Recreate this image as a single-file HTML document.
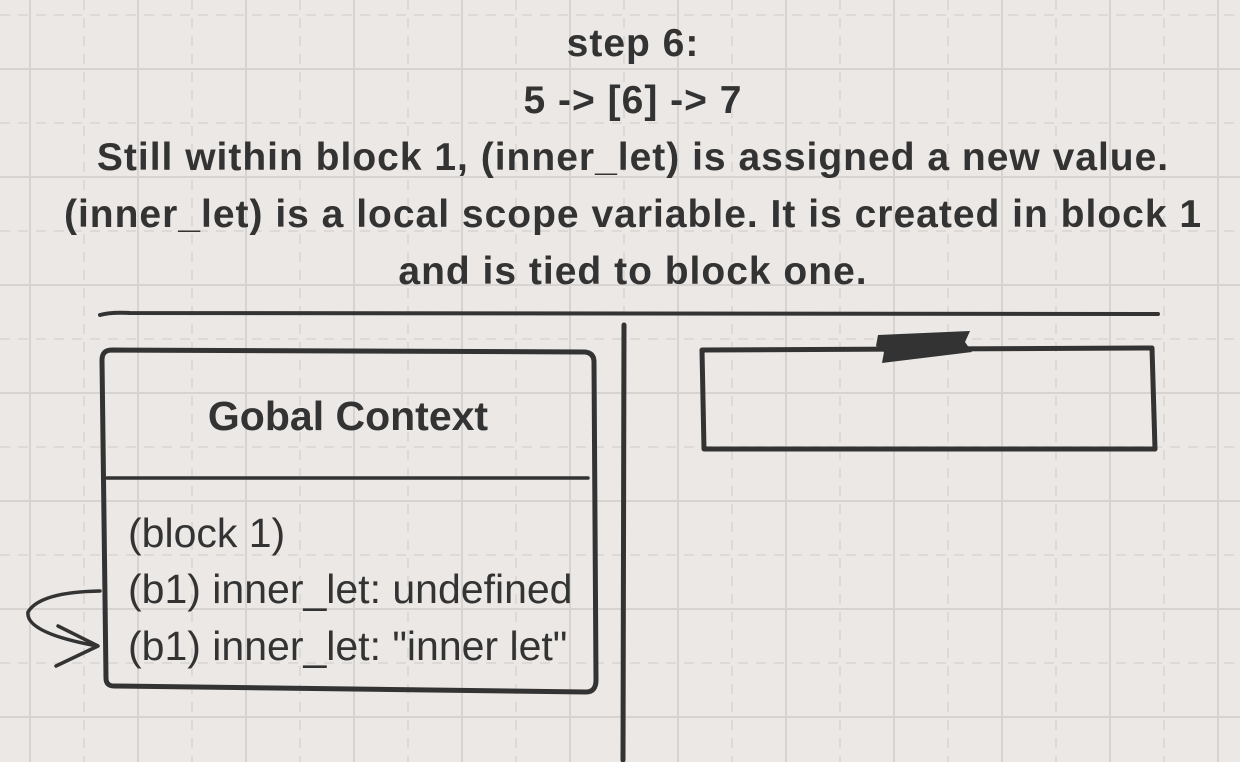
<!DOCTYPE html>
<html><head><style>
html,body{margin:0;padding:0;}
body{width:1240px;height:762px;overflow:hidden;position:relative;background:#ebe8e5;
background-image:
linear-gradient(to right,#d6d3d0 2px,transparent 2px),
linear-gradient(to bottom,#d6d3d0 2px,transparent 2px);
background-size:108px 108px;background-position:29px 68px;
font-family:"Liberation Sans",Arial,sans-serif;color:#333;}
.t{position:absolute;left:0;width:1266px;text-align:center;font-weight:bold;font-size:39px;line-height:57px;top:15px;letter-spacing:1px;}
.b{position:absolute;font-size:41px;left:128px;}
</style></head><body>
<svg width="1240" height="762" style="position:absolute;left:0;top:0">
<g stroke="#dcd9d6" stroke-width="2" stroke-dasharray="10,8">
<line x1="84" y1="0" x2="84" y2="762"/><line x1="192" y1="0" x2="192" y2="762"/><line x1="300" y1="0" x2="300" y2="762"/><line x1="408" y1="0" x2="408" y2="762"/><line x1="516" y1="0" x2="516" y2="762"/><line x1="624" y1="0" x2="624" y2="762"/><line x1="732" y1="0" x2="732" y2="762"/><line x1="840" y1="0" x2="840" y2="762"/><line x1="948" y1="0" x2="948" y2="762"/><line x1="1056" y1="0" x2="1056" y2="762"/><line x1="1164" y1="0" x2="1164" y2="762"/>
<line x1="0" y1="15" x2="1240" y2="15"/><line x1="0" y1="123" x2="1240" y2="123"/><line x1="0" y1="231" x2="1240" y2="231"/><line x1="0" y1="339" x2="1240" y2="339"/><line x1="0" y1="447" x2="1240" y2="447"/><line x1="0" y1="555" x2="1240" y2="555"/><line x1="0" y1="663" x2="1240" y2="663"/>
</g>
<g fill="none" stroke="#333" stroke-linecap="round" stroke-linejoin="round">
<path d="M100 315 Q110 312 130 313 L1158 314" stroke-width="4"/>
<path d="M624 325 L623 760" stroke-width="5"/>
<path d="M112 350 L585 352 Q594 353 594 362 L596 680 Q596 692 586 692 L114 686 Q106 686 106 678 L102 360 Q102 350 112 350 Z" stroke-width="5"/>
<line x1="107" y1="478" x2="588" y2="478" stroke-width="3.5"/>
<path d="M702 350 L1152 348 L1155 449 L704 449 Z" stroke-width="5"/>
<path d="M100 591 Q40 592 28 612 Q25 632 92 645" stroke-width="3.5"/>
<path d="M58 626 L98 646 L56 666" stroke-width="3.5"/>
</g>
<path d="M878 335 L970 331 L965 342 L972 352 L882 363 L884 352 L876 346 Z" fill="#333"/>
</svg>
<div class="t">step 6:<br>5 -&gt; [6] -&gt; 7<br>Still within block 1, (inner_let) is assigned a new value.<br>(inner_let) is a local scope variable. It is created in block 1<br>and is tied to block one.</div>
<div style="position:absolute;left:102px;width:492px;top:393px;text-align:center;font-weight:bold;font-size:41px;">Gobal Context</div>
<div class="b" style="top:510px">(block 1)</div>
<div class="b" style="top:566px">(b1) inner_let: undefined</div>
<div class="b" style="top:623px">(b1) inner_let: "inner let"</div>
</body></html>
